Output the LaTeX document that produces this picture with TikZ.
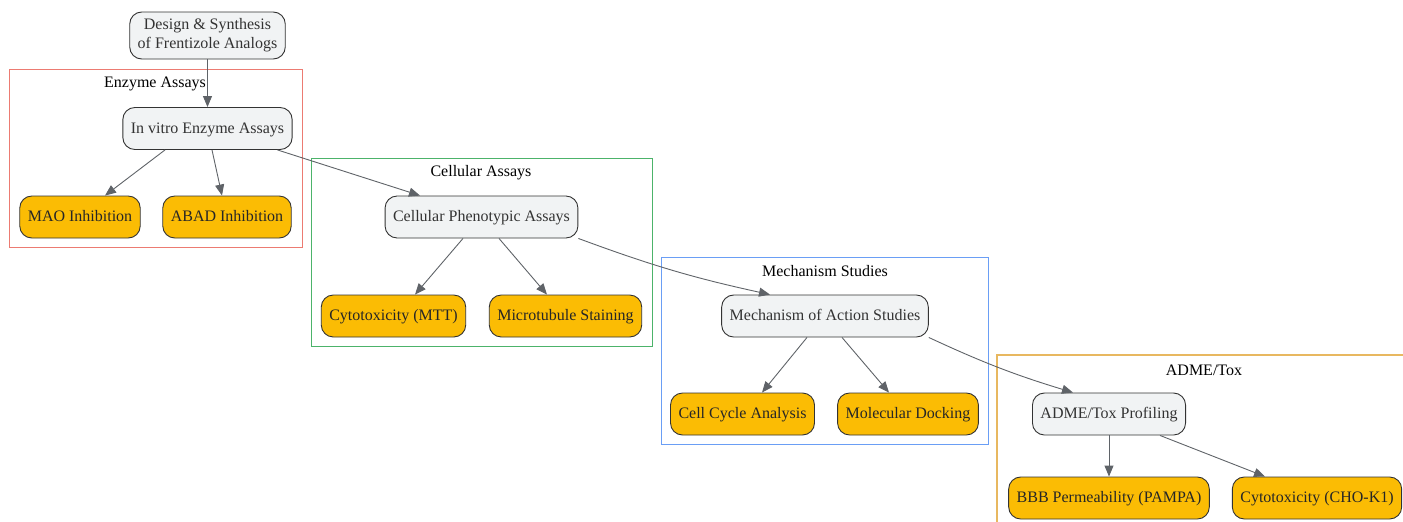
\documentclass[tikz,border=0pt]{standalone}
\usepackage{fontspec}
\setmainfont{Liberation Serif}
\usetikzlibrary{arrows.meta}
\definecolor{boxgray}{HTML}{F1F3F4}
\definecolor{boxline}{HTML}{333333}
\definecolor{edgegray}{HTML}{5F6368}
\definecolor{assayyellow}{HTML}{FBBC04}
\definecolor{clred}{HTML}{EC7B72}
\definecolor{clgreen}{HTML}{4CB36A}
\definecolor{clblue}{HTML}{6A9EF5}
\definecolor{cladme}{HTML}{E8B860}
\tikzset{
	stage/.style={draw=boxline, line width=0.9pt, fill=boxgray, rounded corners=12pt, minimum height=42pt, inner xsep=8pt, text height=12pt, text depth=3pt, align=center, text=boxline, font=\fontsize{16}{19}\selectfont},
	assay/.style={stage, fill=assayyellow, text=black!85},
	cluster/.style={line width=1pt},
	clusterlabel/.style={font=\fontsize{16}{19}\selectfont, text=black},
	edge/.style={draw=edgegray, line width=0.9pt, -{Triangle[length=11pt, width=9pt]}}
}

\begin{document}
\begin{tikzpicture}[x=1pt, y=-1pt]
			%%%%% START %%%%%
			\useasboundingbox (0, 0) rectangle (1403, 522);
			
			% clusters
			\draw[cluster, draw=clred] (9, 69) rectangle (302, 247);
			\node[clusterlabel] (lblenzyme) at (155, 84) {Enzyme Assays};
			\draw[cluster, draw=clgreen] (311, 158) rectangle (652, 346);
			\node[clusterlabel] (lblcell) at (481, 173) {Cellular Assays};
			\draw[cluster, draw=clblue] (661, 257) rectangle (988, 444);
			\node[clusterlabel] (lblmech) at (825, 271) {Mechanism Studies};
			\draw[cluster, draw=cladme, line width=1.1pt] (1403, 355) -- (997, 355) -- (997, 522);
			\node[clusterlabel] (lbladme) at (1204, 370) {ADME/Tox};
			
			% stages
			\node[stage, minimum height=47pt, text height=, text depth=] (design) at (207.5, 35.5) {Design \& Synthesis\\of Frentizole Analogs};
			\node[stage] (invitro) at (207.5, 128.5) {In vitro Enzyme Assays};
			\node[stage] (cellular) at (481.5, 217) {Cellular Phenotypic Assays};
			\node[stage] (moa) at (825, 316) {Mechanism of Action Studies};
			\node[stage] (adme) at (1109, 414) {ADME/Tox Profiling};
			
			% assays
			\node[assay] (mao) at (80, 217) {MAO Inhibition};
			\node[assay] (abad) at (227, 217) {ABAD Inhibition};
			\node[assay] (mtt) at (393.5, 316) {Cytotoxicity (MTT)};
			\node[assay] (micro) at (565.5, 316) {Microtubule Staining};
			\node[assay] (cellcyc) at (742.5, 414) {Cell Cycle Analysis};
			\node[assay] (docking) at (908, 414) {Molecular Docking};
			\node[assay] (bbb) at (1109, 498) {BBB Permeability (PAMPA)};
			\node[assay] (cho) at (1317, 498) {Cytotoxicity (CHO-K1)};
			
			% connections
			\draw[edge] (design.south) -- (invitro.north);
			\draw[edge] ([xshift=-42.5pt]invitro.south) -- ([xshift=25pt]mao.north);
			\draw[edge] ([xshift=4.5pt]invitro.south) -- ([xshift=-5pt]abad.north);
			\draw[edge] ([xshift=70pt]invitro.south) -- ([xshift=-61.5pt]cellular.north);
			\draw[edge] ([xshift=-18.5pt]cellular.south) -- ([xshift=21.5pt]mtt.north);
			\draw[edge] ([xshift=17.5pt]cellular.south) -- ([xshift=-18.5pt]micro.north);
			\draw[edge] (cellular.south east) to[bend right=4] ([xshift=-55pt]moa.north);
			\draw[edge] ([xshift=-18pt]moa.south) -- ([xshift=19.5pt]cellcyc.north);
			\draw[edge] ([xshift=17pt]moa.south) -- ([xshift=-19pt]docking.north);
			\draw[edge] (moa.south east) to[bend right=4] ([xshift=-36pt]adme.north);
			\draw[edge] (adme.south) -- (bbb.north);
			\draw[edge] ([xshift=51pt]adme.south) -- ([xshift=-52pt]cho.north);
			
			%%%%% END %%%%%
\end{tikzpicture}
\end{document}
